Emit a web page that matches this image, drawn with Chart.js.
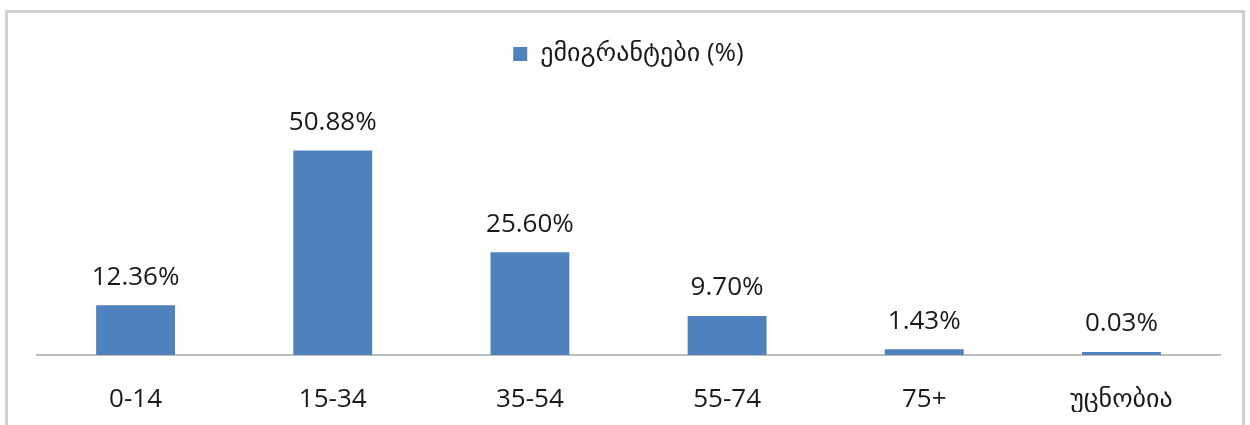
<!DOCTYPE html>
<html>
<head>
<meta charset="utf-8">
<script src="https://cdn.jsdelivr.net/npm/chart.js@4"></script>
<style>
  body { margin: 0; background: #fff; }
  #wrap { position: relative; width: 1250px; height: 425px; overflow: hidden; }
  #frame { position: absolute; left: 5px; top: 10px; width: 1240px; height: 430px;
           border: 3px solid #d0d0d0; box-sizing: border-box; }
  canvas { position: absolute; left: 0; top: 0; }
</style>
</head>
<body>
<div id="wrap">
  <div id="frame"></div>
  <canvas id="chart" width="1250" height="425"></canvas>
</div>
<script>
const categories = ['0-14', '15-34', '35-54', '55-74', '75+', 'უცნობია'];
const seriesName = 'ემიგრანტები (%)';
const emigrants = [12.36, 50.88, 25.60, 9.70, 1.43, 0.03];

const fontFamily = '"Open Sans", "DejaVu Sans", sans-serif';

// draws the value over each bar
const valueLabels = {
    id: 'valueLabels',
    afterDatasetsDraw(chart) {
        const ctx = chart.ctx;
        const meta = chart.getDatasetMeta(0);
        ctx.save();
        ctx.font = '26px ' + fontFamily;
        ctx.fillStyle = '#1a1a1a';
        ctx.textAlign = 'center';
        ctx.textBaseline = 'bottom';
        meta.data.forEach((bar, i) => {
            ctx.fillText(emigrants[i].toFixed(2) + '%', bar.x, bar.y - 15);
        });
        ctx.restore();
    }
};

const ctx = document.getElementById('chart').getContext('2d');
new Chart(ctx, {
    type: 'bar',
    data: {
        labels: categories,
        datasets: [{
            label: seriesName,
            data: emigrants,
            backgroundColor: '#4F81BD',
            borderWidth: 0,
            minBarLength: 3,
            categoryPercentage: 1,
            barPercentage: 0.4
        }]
    },
    options: {
        responsive: false,
        animation: false,
        layout: { padding: { top: 21, left: 37, right: 30, bottom: 13 } },
        scales: {
            x: {
                grid: { display: false },
                border: { display: true, color: '#bdbdbd', width: 2 },
                afterFit: (scale) => { scale.height = 57; },
                ticks: {
                    color: '#1a1a1a',
                    padding: 21,
                    font: { family: fontFamily, size: 26 }
                }
            },
            y: {
                display: false,
                min: 0,
                max: 69.2
            }
        },
        plugins: {
            legend: {
                position: 'top',
                labels: {
                    color: '#1a1a1a',
                    boxWidth: 14,
                    boxHeight: 14,
                    padding: 20,
                    font: { family: fontFamily, size: 26 }
                }
            },
            tooltip: { enabled: false }
        }
    },
    plugins: [valueLabels]
});
</script>
</body>
</html>
